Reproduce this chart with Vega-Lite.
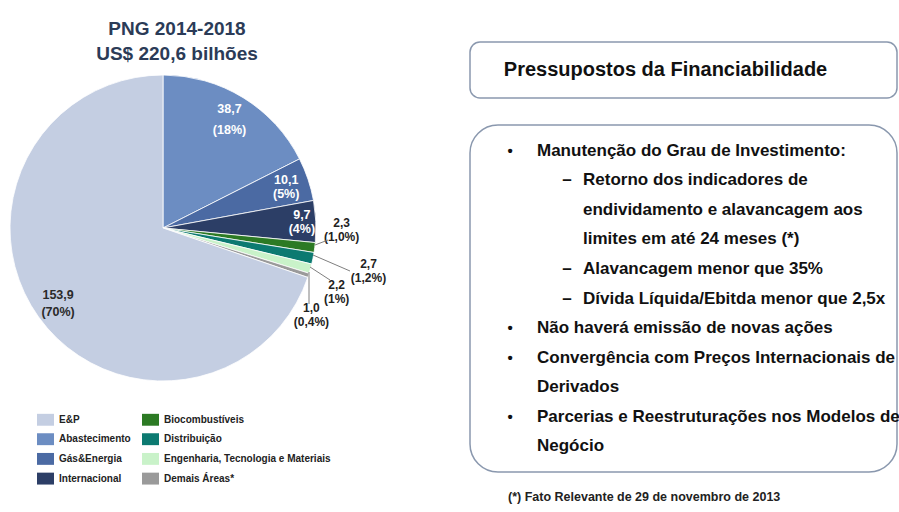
{
  "$schema": "https://vega.github.io/schema/vega-lite/v6.json",
  "padding": {"left": 0, "top": 20, "right": 0, "bottom": 0},
  "background": "white",
  "config": {
    "view": {"stroke": null},
    "font": "Liberation Sans, Arial, sans-serif"
  },
  "datasets": {
    "pie": [
      {"cat": "Abastecimento", "value": 38.7, "ord": 1, "label": "38,7\n(18%)"},
      {"cat": "Gás&Energia", "value": 10.1, "ord": 2, "label": "10,1\n(5%)"},
      {"cat": "Internacional", "value": 9.7, "ord": 3, "label": "9,7\n(4%)"},
      {"cat": "Biocombustíveis", "value": 2.3, "ord": 4, "label": "2,3\n(1,0%)"},
      {"cat": "Distribuição", "value": 2.7, "ord": 5, "label": "2,7\n(1,2%)"},
      {"cat": "Engenharia, Tecnologia e Materiais", "value": 2.2, "ord": 6, "label": "2,2\n(1%)"},
      {"cat": "Demais Áreas*", "value": 1.0, "ord": 7, "label": "1,0\n(0,4%)"},
      {"cat": "E&P", "value": 153.9, "ord": 8, "label": "153,9\n(70%)"}
    ],
    "lines": [
      {"line": 1, "level": "1", "marker": "•", "text": "Manutenção do Grau de Investimento:"},
      {"line": 2, "level": "2", "marker": "–", "text": "Retorno dos indicadores de"},
      {"line": 3, "level": "2", "marker": "", "text": "endividamento e alavancagem aos"},
      {"line": 4, "level": "2", "marker": "", "text": "limites em até 24 meses (*)"},
      {"line": 5, "level": "2", "marker": "–", "text": "Alavancagem menor que 35%"},
      {"line": 6, "level": "2", "marker": "–", "text": "Dívida Líquida/Ebitda menor que 2,5x"},
      {"line": 7, "level": "1", "marker": "•", "text": "Não haverá emissão de novas ações"},
      {"line": 8, "level": "1", "marker": "•", "text": "Convergência com Preços Internacionais de"},
      {"line": 9, "level": "1", "marker": "", "text": "Derivados"},
      {"line": 10, "level": "1", "marker": "•", "text": "Parcerias e Reestruturações nos Modelos de"},
      {"line": 11, "level": "1", "marker": "", "text": "Negócio"}
    ]
  },
  "bounds": "flush",
  "spacing": 144,
  "resolve": {"scale": {"color": "independent"}, "legend": {"color": "independent"}},
  "hconcat": [
    {
      "width": 326,
      "height": 372,
      "title": {
        "text": ["PNG 2014-2018", "US$ 220,6 bilhões"],
        "fontSize": 19,
        "fontWeight": "bold",
        "color": "#2b3b57",
        "anchor": "middle",
        "dx": 14,
        "offset": -22,
        "lineHeight": 25
      },
      "data": {"name": "pie"},
      "layer": [
        {
          "mark": {"type": "arc", "outerRadius": 153, "stroke": "white", "strokeWidth": 0.8},
          "encoding": {
            "theta": {"field": "value", "type": "quantitative", "stack": true},
            "order": {"field": "ord", "type": "quantitative"},
            "color": {
              "field": "cat",
              "type": "nominal",
              "scale": {
                "domain": ["E&P", "Abastecimento", "Gás&Energia", "Internacional", "Biocombustíveis", "Distribuição", "Engenharia, Tecnologia e Materiais", "Demais Áreas*"],
                "range": ["#c4cee2", "#6c8dc2", "#4b6aa3", "#2c3e66", "#2c7a24", "#0c7a71", "#c9f2c9", "#9a9a9a"]
              },
              "legend": {
                "orient": "none",
                "legendX": 37,
                "legendY": 369,
                "columns": 2,
                "title": null,
                "symbolType": "M-1,-0.7H1V0.7H-1Z",
                "symbolSize": 289,
                "symbolStrokeWidth": 0,
                "labelFontSize": 10,
                "labelFontWeight": "bold",
                "labelColor": "#222222",
                "labelLimit": 400,
                "rowPadding": 4.7,
                "columnPadding": 11,
                "labelOffset": 5,
                "padding": 0
              }
            }
          }
        },
        {
          "mark": {"type": "text", "radius": 127, "dy": -10.5, "fontSize": 12.5, "fontWeight": "bold", "color": "white", "lineBreak": "\n", "lineHeight": 21},
          "encoding": {
            "theta": {"field": "value", "type": "quantitative", "stack": true},
            "order": {"field": "ord", "type": "quantitative"},
            "text": {"condition": {"test": "datum.cat === 'Abastecimento'", "field": "label"}, "value": ""}
          }
        },
        {
          "mark": {"type": "text", "radius": 130, "dy": -7, "fontSize": 12.5, "fontWeight": "bold", "color": "white", "lineBreak": "\n", "lineHeight": 14},
          "encoding": {
            "theta": {"field": "value", "type": "quantitative", "stack": true},
            "order": {"field": "ord", "type": "quantitative"},
            "text": {"condition": {"test": "datum.cat === 'Gás&Energia'", "field": "label"}, "value": ""}
          }
        },
        {
          "mark": {"type": "text", "radius": 139, "dy": -7, "fontSize": 12.5, "fontWeight": "bold", "color": "white", "lineBreak": "\n", "lineHeight": 14},
          "encoding": {
            "theta": {"field": "value", "type": "quantitative", "stack": true},
            "order": {"field": "ord", "type": "quantitative"},
            "text": {"condition": {"test": "datum.cat === 'Internacional'", "field": "label"}, "value": ""}
          }
        },
        {
          "mark": {"type": "text", "radius": 129, "dy": -8, "fontSize": 12.5, "fontWeight": "bold", "color": "#2a2a2a", "lineBreak": "\n", "lineHeight": 17},
          "encoding": {
            "theta": {"field": "value", "type": "quantitative", "stack": true},
            "order": {"field": "ord", "type": "quantitative"},
            "text": {"condition": {"test": "datum.cat === 'E&P'", "field": "label"}, "value": ""}
          }
        },
        {
          "mark": {"type": "text", "radius": 175, "dx": 5, "dy": -27, "fontSize": 12, "fontWeight": "bold", "color": "#222222", "lineBreak": "\n", "lineHeight": 14},
          "encoding": {
            "theta": {"field": "value", "type": "quantitative", "stack": true},
            "order": {"field": "ord", "type": "quantitative"},
            "text": {"condition": {"test": "datum.cat === 'Biocombustíveis'", "field": "label"}, "value": ""}
          }
        },
        {
          "mark": {"type": "text", "radius": 175, "dx": 34, "dy": 1, "fontSize": 12, "fontWeight": "bold", "color": "#222222", "lineBreak": "\n", "lineHeight": 14},
          "encoding": {
            "theta": {"field": "value", "type": "quantitative", "stack": true},
            "order": {"field": "ord", "type": "quantitative"},
            "text": {"condition": {"test": "datum.cat === 'Distribuição'", "field": "label"}, "value": ""}
          }
        },
        {
          "mark": {"type": "text", "radius": 175, "dx": 5, "dy": 10, "fontSize": 12, "fontWeight": "bold", "color": "#222222", "lineBreak": "\n", "lineHeight": 14},
          "encoding": {
            "theta": {"field": "value", "type": "quantitative", "stack": true},
            "order": {"field": "ord", "type": "quantitative"},
            "text": {"condition": {"test": "datum.cat === 'Engenharia, Tecnologia e Materiais'", "field": "label"}, "value": ""}
          }
        },
        {
          "mark": {"type": "text", "radius": 175, "dx": -18, "dy": 26, "fontSize": 12, "fontWeight": "bold", "color": "#222222", "lineBreak": "\n", "lineHeight": 14},
          "encoding": {
            "theta": {"field": "value", "type": "quantitative", "stack": true},
            "order": {"field": "ord", "type": "quantitative"},
            "text": {"condition": {"test": "datum.cat === 'Demais Áreas*'", "field": "label"}, "value": ""}
          }
        },
        {
          "data": {"values": [{}]},
          "mark": {"type": "rule", "color": "#7f7f7f", "strokeWidth": 1},
          "encoding": {
            "x": {"datum": 315, "type": "quantitative", "scale": {"domain": [0, 326], "nice": false, "zero": false}, "axis": null},
            "y": {"datum": 203, "type": "quantitative", "scale": {"domain": [372, 0], "nice": false, "zero": false}, "axis": null},
            "x2": {"datum": 328},
            "y2": {"datum": 198}
          }
        },
        {
          "data": {"values": [{}]},
          "mark": {"type": "rule", "color": "#7f7f7f", "strokeWidth": 1},
          "encoding": {
            "x": {"datum": 313, "type": "quantitative"},
            "y": {"datum": 213, "type": "quantitative"},
            "x2": {"datum": 350},
            "y2": {"datum": 229}
          }
        },
        {
          "data": {"values": [{}]},
          "mark": {"type": "rule", "color": "#7f7f7f", "strokeWidth": 1},
          "encoding": {
            "x": {"datum": 310, "type": "quantitative"},
            "y": {"datum": 225, "type": "quantitative"},
            "x2": {"datum": 330},
            "y2": {"datum": 238}
          }
        },
        {
          "data": {"values": [{}]},
          "mark": {"type": "rule", "color": "#7f7f7f", "strokeWidth": 1},
          "encoding": {
            "x": {"datum": 309, "type": "quantitative"},
            "y": {"datum": 230, "type": "quantitative"},
            "x2": {"datum": 309},
            "y2": {"datum": 262}
          }
        }
      ]
    },
    {
      "bounds": "flush",
      "spacing": 27,
      "vconcat": [
        {
          "width": 427,
          "height": 56,
          "view": {"stroke": "#8a98ae", "strokeWidth": 1.5, "cornerRadius": 10, "fill": "white"},
          "data": {"values": [{"t": "Pressupostos da Financiabilidade"}]},
          "mark": {"type": "text", "fontSize": 20, "fontWeight": "bold", "color": "#111111", "dx": -18},
          "encoding": {"text": {"field": "t"}}
        },
        {
          "width": 427,
          "height": 347,
          "view": {"stroke": "#8a98ae", "strokeWidth": 1.5, "cornerRadius": 28, "fill": "white"},
          "title": {
            "text": "(*) Fato Relevante de 29 de novembro de 2013",
            "orient": "bottom",
            "anchor": "start",
            "fontSize": 12.5,
            "fontWeight": "bold",
            "color": "#222222",
            "offset": 19,
            "dx": 38
          },
          "data": {"name": "lines"},
          "encoding": {
            "y": {"field": "line", "type": "ordinal", "scale": {"type": "point", "padding": 0.88}, "axis": null}
          },
          "layer": [
            {
              "mark": {"type": "text", "align": "left", "fontSize": 17, "fontWeight": "bold", "color": "#111111"},
              "encoding": {
                "x": {"field": "level", "type": "ordinal", "scale": {"type": "point", "domain": ["1", "2"], "range": [67, 113], "padding": 0}, "axis": null},
                "text": {"field": "text"}
              }
            },
            {
              "transform": [{"filter": "datum.level === '1'"}],
              "mark": {"type": "text", "align": "center", "fontSize": 15, "fontWeight": "bold", "color": "#111111", "dx": -27},
              "encoding": {
                "x": {"field": "level", "type": "ordinal", "axis": null},
                "text": {"field": "marker"}
              }
            },
            {
              "transform": [{"filter": "datum.level === '2'"}],
              "mark": {"type": "text", "align": "center", "fontSize": 17, "fontWeight": "bold", "color": "#111111", "dx": -16},
              "encoding": {
                "x": {"field": "level", "type": "ordinal", "axis": null},
                "text": {"field": "marker"}
              }
            }
          ]
        }
      ]
    }
  ]
}
